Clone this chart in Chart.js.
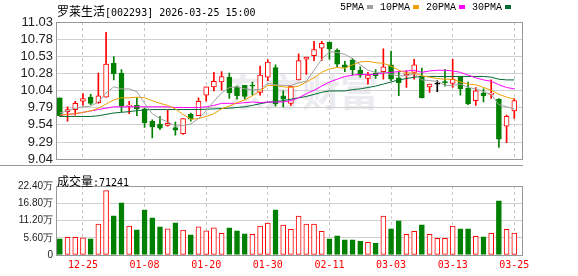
<!DOCTYPE html>
<html>
<head>
<meta charset="utf-8">
<script src="https://cdn.jsdelivr.net/npm/chart.js@4.4.1/dist/chart.umd.min.js"></script>
<style>
    body { margin: 0; background: #fff; }
    #wrap { position: relative; width: 578px; height: 276px; overflow: hidden; }
    canvas { position: absolute; left: 0; }
    #k { top: 0; }
    #vol { top: 170px; }
    .txt { position: absolute; white-space: nowrap; color: #000; line-height: 12px; font: 10px 'DejaVu Sans Mono', monospace; }
    .cn { font: 12px 'Noto Sans CJK SC', sans-serif; }
    #title { left: 57px; top: 2px; }
    #legend { left: 340px; top: 2px; font-family: 'Liberation Mono', monospace; }
    #legend i { display: inline-block; width: 6px; height: 4px; margin: 0 7px 0 3px; vertical-align: middle; }
    #volTitle { left: 57px; top: 172px; }
    #sep { position: absolute; left: 0; top: 165px; width: 523px; height: 1px; background: #999; }
    #mark { position: absolute; left: 226px; top: 70px; font: bold 38px 'Noto Sans CJK SC', sans-serif; color: #ececf0; line-height: 40px; }
</style>
</head>
<body>
<div id="wrap">
    <div id="mark">东方财富</div>
    <div id="sep"></div>
    <canvas id="k" width="578" height="170"></canvas>
    <canvas id="vol" width="578" height="106"></canvas>
    <div class="txt" id="title"><span class="cn">罗莱生活</span>[002293] 2026-03-25 15:00</div>
    <div class="txt" id="legend">5PMA<i style="background:#a0a0a0"></i>10PMA<i style="background:#f0a000"></i>20PMA<i style="background:#ff00ff"></i>30PMA<i style="background:#006934"></i></div>
    <div class="txt" id="volTitle"><span class="cn">成交量</span>:71241</div>
</div>
<script>
// trading days shown on the chart
const dates = ['12-22','12-23','12-24','12-25','12-26','12-29','12-30','12-31','01-05','01-06',
    '01-07','01-08','01-09','01-12','01-13','01-14','01-15','01-16','01-19','01-20',
    '01-21','01-22','01-23','01-26','01-27','01-28','01-29','01-30','02-02','02-03',
    '02-04','02-05','02-06','02-09','02-10','02-11','02-12','02-13','02-24','02-25',
    '02-26','02-27','03-02','03-03','03-04','03-05','03-06','03-09','03-10','03-11',
    '03-12','03-13','03-16','03-17','03-18','03-19','03-20','03-23','03-24','03-25'];

const open = [9.93, 9.73, 9.76, 9.88, 9.94, 9.86, 9.94, 10.43, 10.29, 9.81,
    9.82, 9.77, 9.59, 9.55, 9.53, 9.50, 9.41, 9.69, 9.67, 9.97,
    10.09, 10.16, 10.23, 10.09, 10.11, 10.11, 10.01, 10.23, 10.37, 9.96,
    9.85, 10.19, 10.49, 10.54, 10.65, 10.74, 10.62, 10.41, 10.48, 10.33,
    10.21, 10.29, 10.31, 10.41, 10.22, 10.25, 10.30, 10.23, 10.09, 10.13,
    10.16, 10.14, 10.24, 10.07, 9.89, 10.00, 9.98, 9.91, 9.52, 9.74];
const high = [9.93, 9.80, 9.88, 9.99, 9.98, 10.29, 10.88, 10.53, 10.34, 9.88,
    9.93, 9.78, 9.61, 9.66, 9.75, 9.58, 9.63, 9.71, 9.93, 10.09,
    10.30, 10.31, 10.29, 10.10, 10.11, 10.16, 10.39, 10.48, 10.41, 10.03,
    10.10, 10.57, 10.52, 10.75, 10.75, 10.74, 10.64, 10.46, 10.50, 10.38,
    10.30, 10.34, 10.64, 10.61, 10.31, 10.32, 10.49, 10.36, 10.13, 10.18,
    10.34, 10.49, 10.24, 10.16, 10.08, 10.06, 10.19, 9.92, 9.68, 9.92];
const low = [9.66, 9.59, 9.68, 9.82, 9.83, 9.85, 9.94, 10.19, 9.73, 9.70,
    9.67, 9.50, 9.35, 9.47, 9.52, 9.39, 9.40, 9.59, 9.67, 9.88,
    10.03, 10.04, 9.92, 9.91, 9.91, 9.97, 9.97, 10.18, 9.81, 9.80,
    9.82, 10.19, 10.27, 10.47, 10.47, 10.49, 10.38, 10.31, 10.26, 10.23,
    10.13, 10.21, 10.20, 10.18, 9.96, 10.08, 10.20, 9.93, 10.01, 10.02,
    10.10, 10.08, 9.97, 9.83, 9.82, 9.87, 9.92, 9.21, 9.28, 9.63];
const close = [9.67, 9.76, 9.85, 9.92, 9.85, 9.96, 10.42, 10.28, 9.81, 9.82,
    9.77, 9.57, 9.51, 9.49, 9.56, 9.46, 9.63, 9.62, 9.88, 10.09,
    10.17, 10.24, 10.00, 9.96, 9.95, 10.10, 10.26, 10.45, 9.84, 9.91,
    10.10, 10.47, 10.52, 10.63, 10.72, 10.64, 10.42, 10.37, 10.34, 10.26,
    10.26, 10.25, 10.38, 10.20, 10.15, 10.27, 10.41, 9.93, 10.13, 10.13,
    10.15, 10.20, 10.06, 9.84, 10.03, 9.96, 10.00, 9.33, 9.66, 9.89];

const ma5 = [9.71, 9.74, 9.78, 9.80, 9.81, 9.87, 10.00, 10.09, 10.06, 10.06,
    10.02, 9.85, 9.70, 9.63, 9.58, 9.52, 9.53, 9.55, 9.63, 9.74,
    9.88, 10.00, 10.08, 10.09, 10.06, 10.05, 10.05, 10.14, 10.12, 10.11,
    10.11, 10.15, 10.17, 10.33, 10.49, 10.60, 10.59, 10.56, 10.50, 10.41,
    10.33, 10.30, 10.30, 10.27, 10.25, 10.25, 10.28, 10.19, 10.18, 10.17,
    10.11, 10.11, 10.13, 10.08, 10.06, 10.02, 9.98, 9.83, 9.80, 9.77];
const ma10 = [9.68, 9.69, 9.70, 9.72, 9.74, 9.78, 9.84, 9.90, 9.93, 9.93,
    9.94, 9.93, 9.89, 9.85, 9.82, 9.77, 9.69, 9.62, 9.63, 9.66,
    9.70, 9.77, 9.81, 9.86, 9.90, 9.96, 10.03, 10.11, 10.11, 10.09,
    10.08, 10.10, 10.16, 10.22, 10.30, 10.35, 10.37, 10.36, 10.41, 10.45,
    10.46, 10.44, 10.43, 10.39, 10.33, 10.29, 10.29, 10.25, 10.23, 10.21,
    10.20, 10.20, 10.16, 10.13, 10.12, 10.08, 10.04, 9.98, 9.94, 9.91];
const ma20 = [9.68, 9.69, 9.70, 9.72, 9.74, 9.76, 9.78, 9.80, 9.80, 9.80,
    9.80, 9.80, 9.80, 9.80, 9.80, 9.79, 9.79, 9.79, 9.79, 9.80,
    9.82, 9.85, 9.85, 9.85, 9.86, 9.87, 9.86, 9.87, 9.87, 9.87,
    9.89, 9.93, 9.99, 10.04, 10.10, 10.16, 10.20, 10.24, 10.26, 10.27,
    10.27, 10.27, 10.29, 10.30, 10.31, 10.32, 10.33, 10.30, 10.32, 10.33,
    10.33, 10.32, 10.30, 10.26, 10.22, 10.19, 10.17, 10.12, 10.08, 10.06];
const ma30 = [9.66, 9.66, 9.66, 9.66, 9.66, 9.67, 9.69, 9.71, 9.72, 9.73,
    9.745, 9.755, 9.76, 9.76, 9.76, 9.76, 9.76, 9.76, 9.76, 9.765,
    9.77, 9.775, 9.78, 9.79, 9.80, 9.82, 9.845, 9.865, 9.875, 9.89,
    9.91, 9.93, 9.95, 9.98, 10.01, 10.03, 10.03, 10.03, 10.05, 10.06,
    10.08, 10.10, 10.13, 10.16, 10.19, 10.21, 10.23, 10.24, 10.24, 10.24,
    10.24, 10.24, 10.24, 10.24, 10.24, 10.24, 10.23, 10.20, 10.19, 10.19];

// volume, in 万 (10k shares)
const volume = [5.22, 5.76, 5.76, 5.55, 5.22, 10.0, 20.9, 12.7, 16.96, 9.35,
    8.16, 14.68, 12.07, 9.13, 8.48, 10.44, 8.05, 6.52, 9.13, 7.83,
    8.81, 7.07, 8.81, 7.83, 6.85, 6.74, 9.35, 10.33, 14.68, 9.68,
    8.37, 12.61, 10.0, 10.0, 7.72, 5.22, 6.2, 4.89, 4.89, 4.46,
    4.13, 3.91, 12.61, 8.48, 11.09, 6.74, 7.72, 9.79, 6.74, 5.44,
    5.44, 9.35, 8.48, 8.48, 6.09, 5.87, 7.07, 17.6, 8.37, 7.12];

const priceTicks = ['9.04', '9.29', '9.54', '9.79', '10.04', '10.28', '10.53', '10.78', '11.03'];
const volTicks = ['0', '5.60万', '11.20万', '16.80万', '22.40万'];
const dateTicks = ['12-25', '01-08', '01-20', '01-30', '02-11', '03-03', '03-13', '03-25'];

const RED = '#ff0000';
const GREEN = '#008000';

const candleColor = (i) => close[i] > open[i] ? RED : (close[i] < open[i] ? GREEN : '#000');
const volColor = (i) => i === 0 ? candleColor(0) : (close[i] >= close[i - 1] ? RED : GREEN);
const hollow = (c) => c === RED ? '#fff' : c;

const tickIdx = dateTicks.map(d => dates.indexOf(d));
const priceMin = parseFloat(priceTicks[0]);
const priceMax = parseFloat(priceTicks[priceTicks.length - 1]);

const frame = {
    id: 'frame',
    afterDraw(chart) {
        const { ctx, chartArea: a } = chart;
        ctx.save();
        ctx.strokeStyle = '#999';
        ctx.lineWidth = 1;
        const x0 = Math.round(a.left) + 0.5, y0 = Math.round(a.top) + 0.5;
        const x1 = Math.round(a.right) + 0.5, y1 = Math.round(a.bottom) + 0.5;
        ctx.strokeRect(x0, y0, x1 - x0, y1 - y0);
        ctx.restore();
    }
};

const xAxis = (showLabels) => ({
    type: 'linear',
    offset: false,
    min: -0.5,
    max: 60,
    afterBuildTicks: (s) => { s.ticks = tickIdx.map(v => ({ value: v })); },
    afterFit: (s) => { s.height = showLabels ? 21 : 0; },
    grid: { color: '#c8c8c8', drawTicks: false, offset: false },
    border: { display: false, dash: [3, 3] },
    ticks: {
        display: showLabels,
        autoSkip: false,
        maxRotation: 0,
        padding: 4,
        color: RED,
        font: { family: "'DejaVu Sans Mono', monospace", size: 10 },
        callback: (v) => dates[v]
    }
});

const yFont = "'Liberation Sans', Arial, sans-serif";

const maLine = (data, color) => ({
    type: 'line',
    data: data.map((v, i) => ({ x: i, y: v })),
    borderColor: color,
    borderWidth: 1,
    pointRadius: 0,
    order: 0
});

new Chart(document.querySelector('#k'), {
    data: {
        datasets: [
            maLine(ma5, '#a0a0a0'),
            maLine(ma10, '#f0a000'),
            maLine(ma20, '#ff00ff'),
            maLine(ma30, '#006934'),
            {
                type: 'bar',
                data: dates.map((d, i) => ({ x: i, y: [open[i], close[i]] })),
                backgroundColor: dates.map((d, i) => hollow(candleColor(i))),
                borderColor: dates.map((d, i) => candleColor(i)),
                borderWidth: 1,
                borderSkipped: false,
                minBarLength: 1,
                barThickness: 5,
                grouped: false,
                order: 1
            },
            {
                type: 'bar',
                data: dates.map((d, i) => ({ x: i, y: [low[i], high[i]] })),
                backgroundColor: dates.map((d, i) => candleColor(i)),
                borderWidth: 0,
                barThickness: 1,
                grouped: false,
                order: 2
            }
        ]
    },
    options: {
        responsive: false,
        animation: false,
        layout: { padding: { top: 22, right: 56, bottom: 5, left: 0 } },
        plugins: { legend: { display: false }, tooltip: { enabled: false } },
        scales: {
            x: xAxis(false),
            y: {
                min: priceMin,
                max: priceMax,
                afterBuildTicks: (s) => {
                    s.ticks = priceTicks.map((t, i) => ({ value: priceMin + i * (priceMax - priceMin) / (priceTicks.length - 1) }));
                },
                afterFit: (s) => { s.width = 56; },
                grid: { color: '#d0d0d0', drawTicks: false },
                border: { display: false },
                ticks: {
                    autoSkip: false,
                    padding: 3,
                    color: '#222',
                    font: { family: yFont, size: 13 },
                    callback: (v, i) => priceTicks[i]
                }
            }
        }
    },
    plugins: [frame]
});

new Chart(document.querySelector('#vol'), {
    type: 'bar',
    data: {
        datasets: [{
            data: volume.map((v, i) => ({ x: i, y: v })),
            backgroundColor: volume.map((v, i) => hollow(volColor(i))),
            borderColor: volume.map((v, i) => volColor(i)),
            borderWidth: 1,
            borderSkipped: false,
            barThickness: 5
        }]
    },
    options: {
        responsive: false,
        animation: false,
        layout: { padding: { top: 16, right: 56, bottom: 0, left: 0 } },
        plugins: { legend: { display: false }, tooltip: { enabled: false } },
        scales: {
            x: xAxis(true),
            y: {
                min: 0,
                max: parseFloat(volTicks[volTicks.length - 1]),
                afterBuildTicks: (s) => { s.ticks = volTicks.map(t => ({ value: parseFloat(t) })); },
                afterFit: (s) => { s.width = 56; },
                grid: { color: '#d0d0d0', drawTicks: false },
                border: { display: false },
                ticks: {
                    autoSkip: false,
                    padding: 3,
                    color: '#222',
                    font: { family: yFont, size: 10 },
                    callback: (v, i) => volTicks[i]
                }
            }
        }
    },
    plugins: [frame]
});
</script>
</body>
</html>
